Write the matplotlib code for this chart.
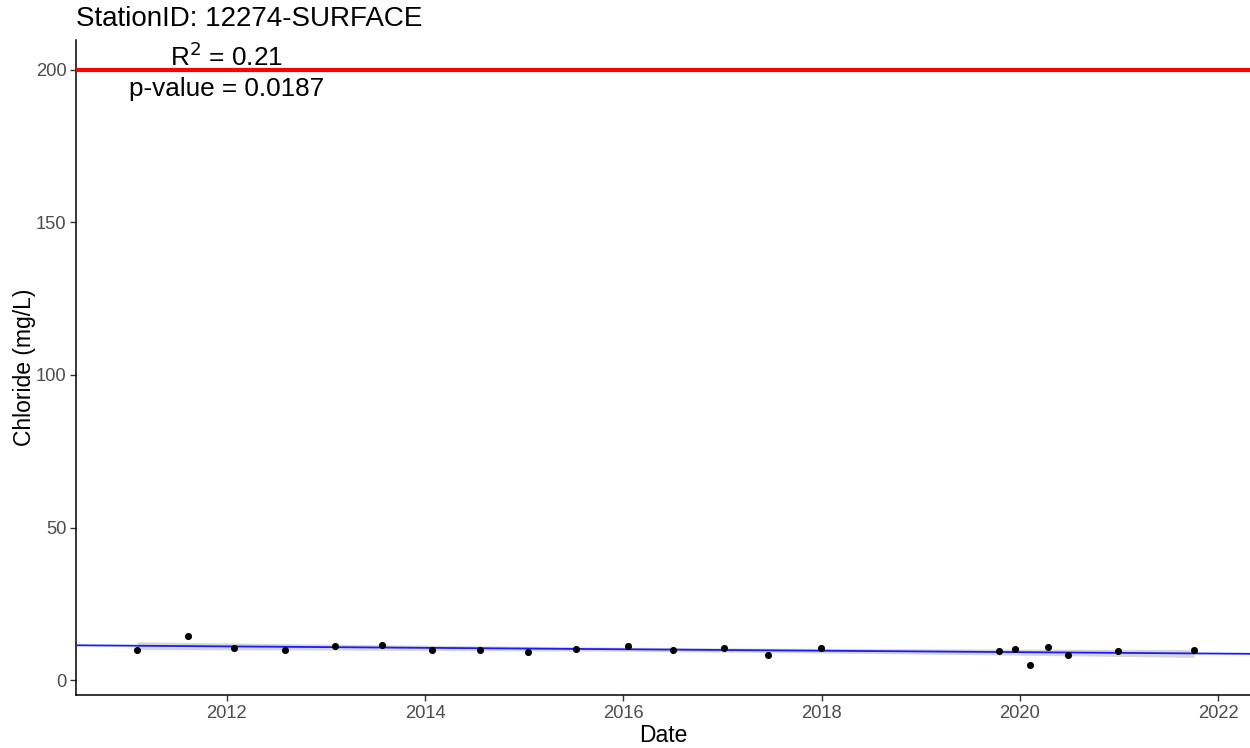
import numpy as np
import pandas as pd
import matplotlib
matplotlib.use('Agg')
import matplotlib.pyplot as plt
import matplotlib.dates as mdates

plt.rcParams['font.family'] = ['Liberation Sans', 'DejaVu Sans']

# --- Datos de muestreo ---
station = '12274-SURFACE'
fechas = ['2011-02-06', '2011-08-12', '2012-01-29', '2012-08-03', '2013-02-03',
          '2013-07-26', '2014-01-26', '2014-07-22', '2015-01-17', '2015-07-12',
          '2016-01-19', '2016-07-02', '2017-01-05', '2017-06-19', '2017-12-28',
          '2019-10-16', '2019-12-16', '2020-02-08', '2020-04-12', '2020-06-27',
          '2020-12-27', '2021-10-04']
cloruro = [9.8, 14.5, 10.46, 10.03, 11.11, 11.54, 9.8, 9.8, 9.38, 10.23,
           11.21, 9.9, 10.46, 8.27, 10.69, 9.71, 10.23, 4.9, 10.88, 8.17, 9.58, 9.8]
limite = 200
r2_txt = '0.21'
p_txt = '0.0187'

fechas = pd.to_datetime(fechas)
x = mdates.date2num(fechas)
y = np.array(cloruro)

# --- Ajuste lineal con banda de confianza 95% ---
pend, inter = np.polyfit(x, y, 1)
n = len(x)
resid = y - (pend * x + inter)
s = np.sqrt(np.sum(resid ** 2) / (n - 2))
T_95 = 2.086  # t de Student, gl = 20
xm = x.mean()
sxx = np.sum((x - xm) ** 2)

xmin = mdates.date2num(pd.Timestamp('2010-06-25'))
xmax = mdates.date2num(pd.Timestamp('2022-04-28'))

xb = np.linspace(x.min(), x.max(), 200)
yb = pend * xb + inter
se = s * np.sqrt(1 / n + (xb - xm) ** 2 / sxx)
xl = np.array([xmin, xmax])

fig = plt.figure(figsize=(12.5, 7.48), dpi=100)
ax = fig.add_axes([0.0608, 0.0709, 0.9392, 0.8756])

ax.fill_between(xb, yb - T_95 * se, yb + T_95 * se, color='#999999', alpha=0.4,
                linewidth=0, zorder=2)
ax.plot(xl, pend * xl + inter, color='#1a1aff', lw=1.3, zorder=3)
ax.scatter(x, y, s=26, color='black', zorder=4, linewidths=0)
ax.axhline(limite, color='#ff0000', lw=3, zorder=3)

x_txt = mdates.date2num(pd.Timestamp('2012-01-01'))
ax.text(x_txt, 204.3, r'R$^2$ = ' + r2_txt, ha='center', va='center', fontsize=18.8)
ax.text(x_txt, 193.8, 'p-value = ' + p_txt, ha='center', va='center', fontsize=18.8)

ax.set_xlim(xmin, xmax)
ax.set_ylim(-4.85, 209.75)
ax.set_yticks([0, 50, 100, 150, 200])
ax.xaxis.set_major_locator(mdates.YearLocator(2))
ax.xaxis.set_major_formatter(mdates.DateFormatter('%Y'))

for lado in ['top', 'right']:
    ax.spines[lado].set_visible(False)
for lado in ['left', 'bottom']:
    ax.spines[lado].set_linewidth(1.1)
ax.tick_params(labelsize=13.2, labelcolor='#4d4d4d', color='#333333',
               length=4, width=1, pad=3)

ax.set_xlabel('Date', fontsize=16.5, labelpad=2)
ax.set_ylabel('Chloride (mg/L)', fontsize=16.5, labelpad=0)
fig.text(0.0608, 0.975, f'StationID: {station}', fontsize=20, ha='left', va='center')

fig.savefig('out.png', dpi=100)
